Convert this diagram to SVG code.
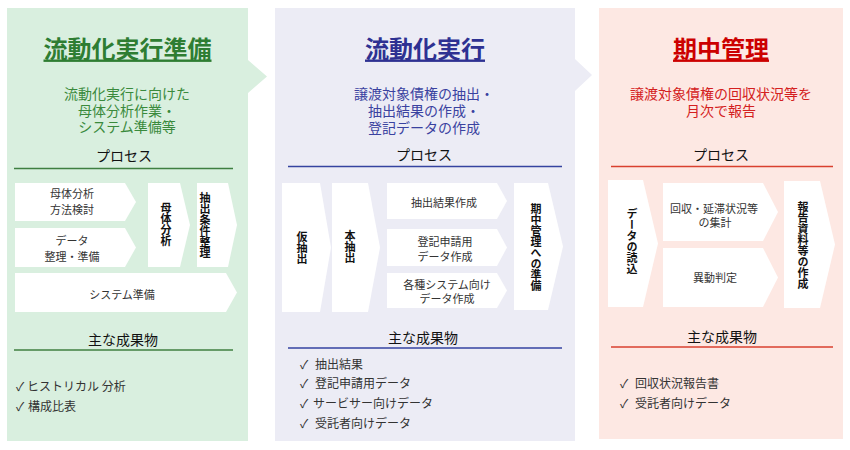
<svg xmlns="http://www.w3.org/2000/svg" width="850" height="450" viewBox="0 0 850 450">
<style>
text{font-family:"Noto Sans CJK JP","DejaVu Sans",sans-serif}
.ttl{font-size:24px;font-weight:bold;text-anchor:middle;text-decoration:underline}
.sub{font-size:14px;text-anchor:middle}
.hd{font-size:14px;text-anchor:middle;fill:#111}
.pt{font-size:11px;text-anchor:middle;fill:#333}
.vt{font-size:11px;font-weight:bold;text-anchor:middle;fill:#111;writing-mode:vertical-rl}
.ck{font-size:12px;fill:#333}
.step{fill:#fff}
.g{fill:#2e7d32}.gs{fill:#3a8a3c}
.b{fill:#2e3192}.bs{fill:#3a42a0}
.r{fill:#cc0000}.rs{fill:#d42020}
</style>
<g id="panel-prep">
<path d="M7,8 H248 V60 L267,76.5 L248,93 V441 H7 Z" fill="#d9efdf"/>
<text class="ttl g" x="127.5" y="57.5">流動化実行準備</text>
<text class="sub gs" x="127" y="99">流動化実行に向けた</text>
<text class="sub gs" x="127" y="115.5">母体分析作業・</text>
<text class="sub gs" x="127" y="132">システム準備等</text>
<text class="hd" x="124" y="160.5">プロセス</text>
<line x1="14" y1="168.5" x2="233" y2="168.5" stroke="#3f7f41" stroke-width="1.5"/>
<text class="hd" x="123" y="345">主な成果物</text>
<line x1="14" y1="350" x2="233" y2="350" stroke="#3f7f41" stroke-width="1.5"/>
<text class="ck" y="390.5"><tspan x="16">✓</tspan><tspan x="27">ヒストリカル 分析</tspan></text>
<text class="ck" y="410.5"><tspan x="16">✓</tspan><tspan x="28">構成比表</tspan></text>
</g>
<g id="panel-exec">
<path d="M275,8 H575 V59 L592,75 L575,91 V441 H275 Z" fill="#ececf5"/>
<text class="ttl b" x="425" y="57.5">流動化実行</text>
<text class="sub bs" x="424" y="98.5">譲渡対象債権の抽出・</text>
<text class="sub bs" x="424" y="116">抽出結果の作成・</text>
<text class="sub bs" x="424" y="133">登記データの作成</text>
<text class="hd" x="424" y="159.5">プロセス</text>
<line x1="288" y1="166.5" x2="562" y2="166.5" stroke="#3543a0" stroke-width="1.5"/>
<text class="hd" x="423" y="343">主な成果物</text>
<line x1="288" y1="348" x2="562" y2="348" stroke="#3543a0" stroke-width="1.5"/>
<text class="ck" y="368.5"><tspan x="300">✓</tspan><tspan x="315">抽出結果</tspan></text>
<text class="ck" y="387.5"><tspan x="300">✓</tspan><tspan x="315">登記申請用データ</tspan></text>
<text class="ck" y="407.5"><tspan x="300">✓</tspan><tspan x="313">サービサー向けデータ</tspan></text>
<text class="ck" y="427.5"><tspan x="300">✓</tspan><tspan x="315">受託者向けデータ</tspan></text>
</g>
<g id="panel-mgmt">
<rect x="599" y="8" width="244" height="431" fill="#fde8e3"/>
<text class="ttl r" x="721" y="57.5">期中管理</text>
<text class="sub rs" x="721" y="98.5">譲渡対象債権の回収状況等を</text>
<text class="sub rs" x="721" y="116">月次で報告</text>
<text class="hd" x="721" y="159.5">プロセス</text>
<line x1="611" y1="166.5" x2="833" y2="166.5" stroke="#d9402f" stroke-width="1.5"/>
<text class="hd" x="722" y="342">主な成果物</text>
<line x1="611" y1="347" x2="833" y2="347" stroke="#d9402f" stroke-width="1.5"/>
<text class="ck" y="387.5"><tspan x="620">✓</tspan><tspan x="635">回収状況報告書</tspan></text>
<text class="ck" y="407.5"><tspan x="620">✓</tspan><tspan x="635">受託者向けデータ</tspan></text>
</g>
<g id="steps-prep">
<g id="s-boshitai-houhou"><path class="step" d="M15,183 H125 L136,202 L125,221 H15 Z"/><text class="pt" x="72" y="198">母体分析</text><text class="pt" x="72" y="214">方法検討</text></g>
<g id="s-data-seiri"><path class="step" d="M15,228 H125 L136,247.5 L125,267 H15 Z"/><text class="pt" x="72" y="245">データ</text><text class="pt" x="72" y="261">整理・準備</text></g>
<g id="s-boshitai"><path class="step" d="M148,183 H180 L190,225 L180,267 H148 Z"/><text class="vt" x="166" y="224">母体分析</text></g>
<g id="s-jouken"><path class="step" d="M197,183 H228 L237,225 L228,267 H197 Z"/><text class="vt" x="205" y="225">抽出条件整理</text></g>
<g id="s-system"><path class="step" d="M15,273 H226 L237,292.5 L226,312 H15 Z"/><text class="pt" x="122" y="299">システム準備</text></g>
</g>
<g id="steps-exec">
<g id="s-kari"><path class="step" d="M282,183 H320 L331,247.5 L320,312 H282 Z"/><text class="vt" x="302" y="248">仮抽出</text></g>
<g id="s-hon"><path class="step" d="M332,183 H368 L380,247.5 L368,312 H332 Z"/><text class="vt" x="350" y="247">本抽出</text></g>
<g id="s-kekka"><path class="step" d="M387,183 H497 L507,201 L497,219 H387 Z"/><text class="pt" x="444" y="207">抽出結果作成</text></g>
<g id="s-touki"><path class="step" d="M387,229 H497 L507,247.5 L497,266 H387 Z"/><text class="pt" x="445" y="246">登記申請用</text><text class="pt" x="445" y="261">データ作成</text></g>
<g id="s-kakushu"><path class="step" d="M387,273 H497 L507,290.5 L497,308 H387 Z"/><text class="pt" x="447" y="288.5">各種システム向け</text><text class="pt" x="447" y="302.5">データ作成</text></g>
<g id="s-junbi"><path class="step" d="M514,183 H548 L563,246.5 L548,310 H514 Z"/><text class="vt" x="536" y="247">期中管理への準備</text></g>
</g>
<g id="steps-mgmt">
<g id="s-yomikomi"><path class="step" d="M608,180 H643 L658,243.5 L643,307 H608 Z"/><text class="vt" x="632" y="241">データの読込</text></g>
<g id="s-shukei"><path class="step" d="M663,183 H763 L778,212 L763,241 H663 Z"/><text class="pt" x="714" y="213">回収・延滞状況等</text><text class="pt" x="715" y="227">の集計</text></g>
<g id="s-idou"><path class="step" d="M663,248 H763 L778,277.5 L763,307 H663 Z"/><text class="pt" x="715" y="282">異動判定</text></g>
<g id="s-houkoku"><path class="step" d="M784,181 H820 L835,244.5 L820,308 H784 Z"/><text class="vt" x="803" y="245">報告資料等の作成</text></g>
</g>
<g id="connectors"></g>
</svg>
